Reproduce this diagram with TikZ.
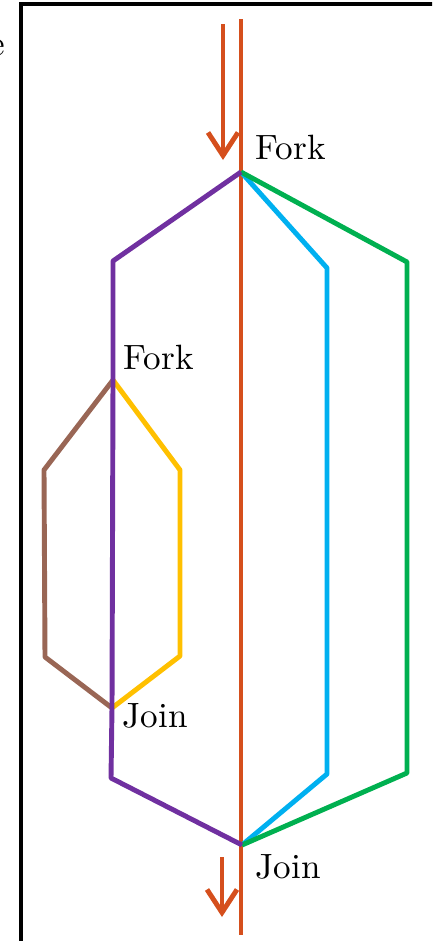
\documentclass[tikz,border=0pt]{standalone}
\usepackage{xcolor}
\usepackage{tikz}
\usetikzlibrary{arrows.meta,positioning}
\definecolor{mainorange}{RGB}{213,79,29}
\definecolor{thpurple}{RGB}{112,48,160}
\definecolor{thblue}{RGB}{0,176,240}
\definecolor{thgreen}{RGB}{0,176,80}
\definecolor{thyellow}{RGB}{255,192,0}
\definecolor{thbrown}{RGB}{153,102,85}
\begin{document}
\begin{tikzpicture}[>={Straight Barb[length=2.3mm,width=3mm]},
  thread/.style={line width=1.4pt,line join=round},
  lab/.style={anchor=base west,inner sep=0pt}]
\useasboundingbox (0,0) rectangle (4.32,-9.41);
\clip (0,0) rectangle (4.32,-9.41);
\draw[line width=1pt] (.21,-.04) rectangle (4.6,-9.7);
\node[anchor=base east,inner sep=0pt] (cut) at (.06,-.56) {e};
% points
\coordinate (top) at (2.41,-.19);
\coordinate (bot) at (2.41,-9.35);
\coordinate (f1) at (2.41,-1.72);
\coordinate (j1) at (2.42,-8.45);
\coordinate (f2) at (1.13,-3.80);
\coordinate (j2) at (1.12,-7.08);
\coordinate (ina) at (2.23,-.24);
\coordinate (inb) at (2.23,-1.60);
\coordinate (outa) at (2.22,-8.57);
\coordinate (outb) at (2.22,-9.17);
% main thread
\draw[thread,mainorange] (top) -- (bot);
\draw[thread,mainorange,->] (ina) -- (inb);
\draw[thread,mainorange,->] (outa) -- (outb);
% outer fork / join
\draw[thread,thblue] (f1) -- (3.27,-2.68) -- (3.27,-7.74) -- (j1);
\draw[thread,thgreen] (f1) -- (4.07,-2.62) -- (4.07,-7.73) -- (j1);
% inner fork / join
\draw[thread,thbrown] (f2) -- (.44,-4.70) -- (.45,-6.57) -- (j2);
\draw[thread,thyellow] (f2) -- (1.80,-4.70) -- (1.80,-6.56) -- (j2);
\draw[thread,thpurple] (f1) -- (1.13,-2.61) -- (f2) -- (j2) -- (1.11,-7.78) -- (j1);
% labels
\node[lab] (fork1) at (2.55,-1.59) {Fork};
\node[lab] (fork2) at (1.23,-3.69) {Fork};
\node[lab] (join2) at (1.22,-7.27) {Join};
\node[lab] (join1) at (2.55,-8.78) {Join};
\end{tikzpicture}
\end{document}
